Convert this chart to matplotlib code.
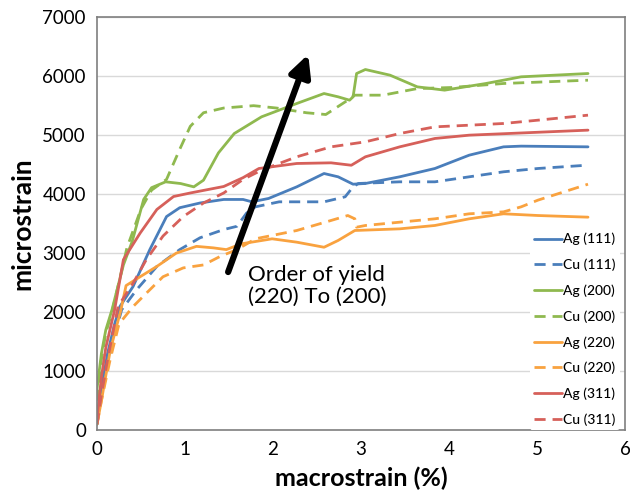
import matplotlib
matplotlib.use('Agg')
import matplotlib.pyplot as plt

plt.rcParams['font.family'] = ['Lato', 'DejaVu Sans']

# macrostrain (%) / microstrain
ag111_x = [0, 0.05, 0.12, 0.2, 0.26, 0.41, 0.6, 0.79, 0.94, 1.17, 1.44, 1.66, 1.76, 1.95, 2.27, 2.58, 2.74, 2.91, 3.05, 3.44, 3.84, 4.23, 4.62, 4.82, 5.58]
ag111_y = [100, 700, 1300, 1800, 2095, 2435, 3060, 3620, 3770, 3850, 3910, 3910, 3870, 3927, 4124, 4350, 4294, 4169, 4181, 4294, 4435, 4661, 4802, 4814, 4802]

cu111_x = [0, 0.05, 0.12, 0.2, 0.28, 0.45, 0.68, 0.94, 1.17, 1.44, 1.59, 1.70, 1.80, 2.07, 2.58, 2.82, 2.91, 2.97, 3.44, 3.84, 4.23, 4.62, 5.01, 5.58]
cu111_y = [100, 600, 1100, 1600, 2040, 2380, 2775, 3060, 3260, 3400, 3455, 3680, 3785, 3870, 3870, 3955, 4124, 4181, 4209, 4209, 4294, 4379, 4435, 4492]

ag200_x = [0, 0.05, 0.1, 0.17, 0.3, 0.4, 0.53, 0.62, 0.78, 0.95, 1.1, 1.21, 1.38, 1.56, 1.87, 2.27, 2.58, 2.74, 2.87, 2.91, 2.95, 3.05, 3.33, 3.64, 3.95, 4.42, 4.82, 5.58]
ag200_y = [700, 1300, 1700, 2040, 2800, 3200, 3910, 4110, 4209, 4180, 4124, 4237, 4700, 5028, 5311, 5537, 5706, 5650, 5593, 5650, 6045, 6113, 6017, 5819, 5763, 5876, 5989, 6045]

cu200_x = [0, 0.05, 0.1, 0.17, 0.34, 0.5, 0.62, 0.79, 0.94, 1.06, 1.21, 1.44, 1.78, 2.04, 2.38, 2.6, 2.85, 2.93, 3.25, 3.64, 4.03, 4.62, 5.58]
cu200_y = [500, 1200, 1650, 2000, 3090, 3750, 4068, 4250, 4760, 5150, 5380, 5460, 5500, 5460, 5380, 5350, 5593, 5678, 5678, 5790, 5808, 5876, 5932]

ag220_x = [0, 0.05, 0.15, 0.27, 0.33, 0.49, 0.68, 0.9, 1.13, 1.32, 1.47, 1.64, 1.99, 2.27, 2.58, 2.74, 2.93, 3.44, 3.84, 4.23, 4.62, 5.01, 5.58]
ag220_y = [100, 500, 1350, 2030, 2450, 2600, 2775, 3000, 3115, 3090, 3060, 3158, 3243, 3186, 3100, 3215, 3384, 3412, 3469, 3582, 3667, 3638, 3610]

cu220_x = [0, 0.05, 0.15, 0.25, 0.41, 0.56, 0.75, 0.98, 1.21, 1.40, 1.59, 1.80, 2.27, 2.66, 2.85, 2.93, 2.95, 3.05, 3.44, 3.84, 4.23, 4.62, 4.82, 5.01, 5.58]
cu220_y = [100, 500, 1200, 1800, 2095, 2320, 2600, 2750, 2800, 2945, 3060, 3243, 3384, 3554, 3638, 3582, 3440, 3469, 3525, 3582, 3667, 3700, 3785, 3898, 4169]

ag311_x = [0, 0.05, 0.1, 0.2, 0.3, 0.49, 0.68, 0.87, 1.06, 1.44, 1.66, 1.84, 2.27, 2.66, 2.89, 3.05, 3.44, 3.84, 4.23, 5.58]
ag311_y = [200, 900, 1400, 2040, 2890, 3340, 3740, 3960, 4020, 4130, 4280, 4435, 4520, 4531, 4490, 4633, 4802, 4944, 5000, 5085]

cu311_x = [0, 0.05, 0.12, 0.24, 0.41, 0.56, 0.75, 0.98, 1.21, 1.44, 1.66, 1.87, 2.27, 2.66, 3.05, 3.44, 3.84, 4.23, 4.62, 5.01, 5.58]
cu311_y = [100, 600, 1200, 2100, 2490, 2890, 3290, 3620, 3850, 4020, 4250, 4407, 4633, 4802, 4887, 5028, 5141, 5169, 5198, 5254, 5339]

blue = '#4a7ebb'
green = '#8fb94f'
orange = '#f9a23f'
red = '#d6605a'

series = [
    ('Ag (111)', ag111_x, ag111_y, blue, '-'),
    ('Cu (111)', cu111_x, cu111_y, blue, '--'),
    ('Ag (200)', ag200_x, ag200_y, green, '-'),
    ('Cu (200)', cu200_x, cu200_y, green, '--'),
    ('Ag (220)', ag220_x, ag220_y, orange, '-'),
    ('Cu (220)', cu220_x, cu220_y, orange, '--'),
    ('Ag (311)', ag311_x, ag311_y, red, '-'),
    ('Cu (311)', cu311_x, cu311_y, red, '--'),
]

fig = plt.figure(figsize=(6.3, 4.91), dpi=100)
ax = fig.add_axes([0.154, 0.124, 0.838, 0.841])

for label, xs, ys, c, ls in series:
    line, = ax.plot(xs, ys, color=c, lw=2.0, ls=ls, label=label,
                    solid_joinstyle='round', solid_capstyle='round')
    if ls == '--':
        line.set_dashes((4, 2.5))

ax.set_xlim(0, 6)
ax.set_ylim(0, 7000)
ax.set_xticks(range(0, 7))
ax.set_yticks(range(0, 7001, 1000))
ax.grid(axis='y', color='#d9d9d9', lw=1)
ax.set_axisbelow(True)
ax.tick_params(length=0, labelsize=13.5, pad=8)
for s in ax.spines.values():
    s.set_color('#7f7f7f')
    s.set_linewidth(1.2)

ax.set_xlabel('macrostrain (%)', fontsize=18, fontweight='bold', labelpad=6)
ax.set_ylabel('microstrain', fontsize=19, fontweight='bold', labelpad=6)

# arrow and note
ax.annotate('', xy=(2.40, 6370), xytext=(1.49, 2680),
            arrowprops=dict(arrowstyle='-|>', lw=4.5, color='black',
                            mutation_scale=32, shrinkA=0, shrinkB=0))
ax.text(1.72, 2800, 'Order of yield\n(220) To (200)', fontsize=16,
        va='top', ha='left', linespacing=1.15)

leg = ax.legend(loc='lower right', bbox_to_anchor=(0.99, 0.0),
                handlelength=2.0, handletextpad=0.1,
                labelspacing=0.95, frameon=True, borderaxespad=0.0,
                borderpad=0.3, prop={'size': 10, 'weight': 'medium'})
leg.get_frame().set_edgecolor('none')
leg.get_frame().set_facecolor('white')
leg.get_frame().set_alpha(1)

fig.savefig('out.png', dpi=100)
